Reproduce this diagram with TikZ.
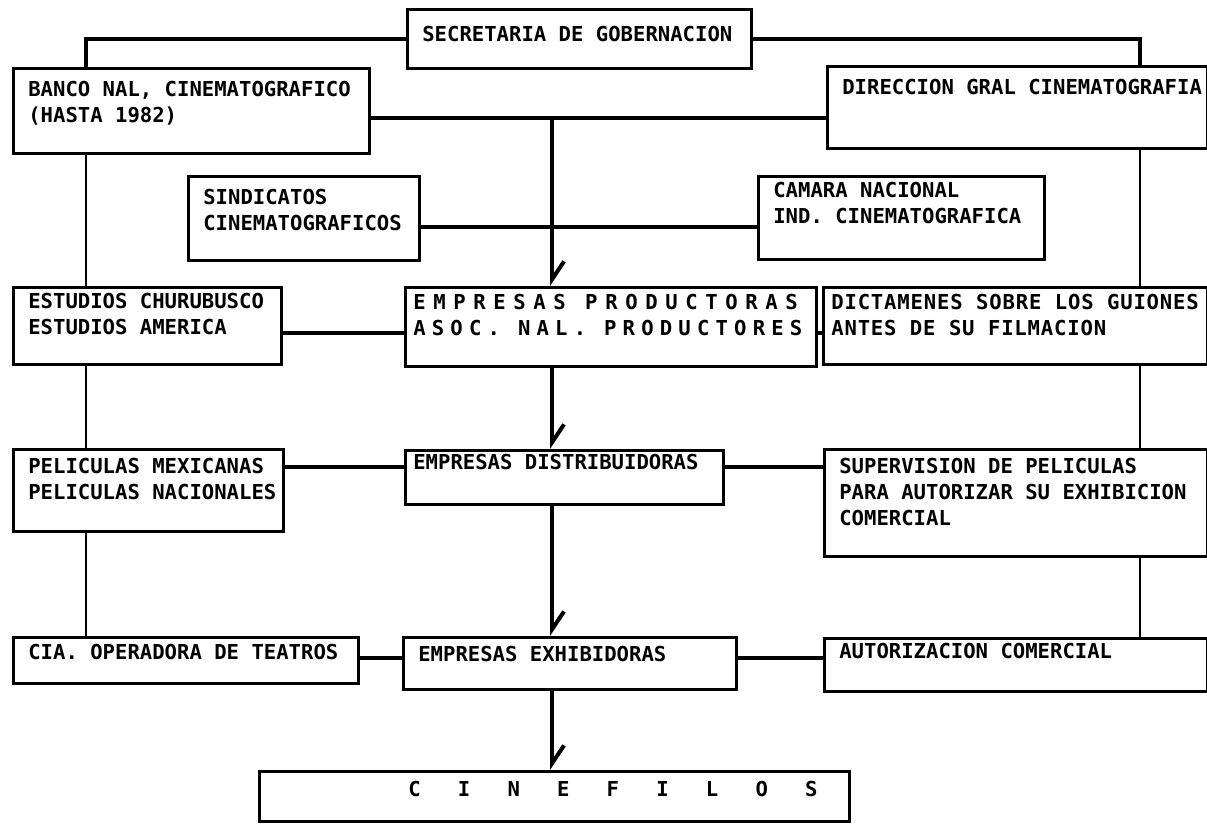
\documentclass[tikz,border=0pt]{standalone}
\usepackage{fontspec}
\setmainfont{DejaVu Sans Mono}
\usepackage{tikz}
\usetikzlibrary{arrows.meta}

\begin{document}
\begin{tikzpicture}[x=0.5pt,y=-0.5pt,font=\fontsize{10.3}{13}\selectfont\bfseries,
  org/.style={draw,line width=1.3pt,anchor=north west,align=left,inner xsep=7.5pt,text height=7.5pt,
    execute at begin node={\spaceskip=0.602em\xspaceskip=0.602em\relax}},
  link/.style={line width=2pt},
  side/.style={line width=1.2pt},
  flow/.style={link,-{Straight Barb[harpoon,length=9pt,width=12pt]}}]
  \useasboundingbox (0,0) rectangle (1207,824);
  % column and row guides
  \coordinate (lcol) at (86,0);
  \coordinate (rcol) at (1140,0);
  \coordinate (axis) at (552,118);
  \coordinate (cross) at (552,227);
  \coordinate (r1) at (0,333);
  \coordinate (r2) at (0,467);
  \coordinate (r3) at (0,658);
  % boxes
  \node[org,text width=157pt,inner ysep=8.5pt,text depth=5pt] (sec) at (406,8) {SECRETARIA DE GOBERNACION};
  \node[org,text width=163pt,inner ysep=6.5pt,text depth=22pt] (banco) at (12,67) {BANCO NAL, CINEMATOGRAFICO\\(HASTA 1982)};
  \node[org,text width=175pt,inner ysep=6.5pt,text depth=20.5pt] (dir) at (826,65) {\mbox{DIRECCION GRAL CINEMATOGRAFIA}};
  \node[org,text width=100.5pt,inner ysep=6.5pt,text depth=21.5pt] (sind) at (187,175) {SINDICATOS\\CINEMATOGRAFICOS};
  \node[org,text width=128pt,inner ysep=3pt,text depth=28pt] (cam) at (757,175) {CAMARA NACIONAL\\IND. CINEMATOGRAFICA};
  \node[org,text width=119pt,inner ysep=3pt,text depth=25pt] (est) at (12,286) {ESTUDIOS CHURUBUSCO\\ESTUDIOS AMERICA};
  \node[org,inner xsep=4pt,text width=197.5pt,inner ysep=3.5pt,text depth=25pt] (prod) at (404,286)
    {\mbox{\addfontfeature{LetterSpace=37}\spaceskip=9.7pt EMPRESAS PRODUCTORAS}\\\mbox{\addfontfeature{LetterSpace=30}\spaceskip=9pt\xspaceskip=9pt ASOC. NAL. PRODUCTORES}};
  \node[org,inner xsep=4pt,text width=184pt,inner ysep=3.5pt,text depth=24pt] (dict) at (822,286)
    {\mbox{\addfontfeature{LetterSpace=4}\spaceskip=6.7pt DICTAMENES SOBRE LOS GUIONES}\\\mbox{\addfontfeature{LetterSpace=4}\spaceskip=6.7pt ANTES DE SU FILMACION}};
  \node[org,text width=120pt,inner ysep=4.5pt,text depth=24.5pt] (pel) at (12,448) {\mbox{PELICULAS MEXICANAS}\\\mbox{PELICULAS NACIONALES}};
  \node[org,inner xsep=4pt,text width=151pt,inner ysep=2pt,text depth=15.5pt] (dist) at (404,449) {EMPRESAS DISTRIBUIDORAS};
  \node[org,text width=176.5pt,inner ysep=4.5pt,text depth=37pt] (sup) at (823,448) {SUPERVISION DE PELICULAS\\PARA AUTORIZAR SU EXHIBICION\\COMERCIAL};
  \node[org,text width=157.5pt,inner ysep=3.5pt,text depth=8.5pt] (cia) at (12,636) {CIA. OPERADORA DE TEATROS};
  \node[org,text width=151.5pt,inner ysep=4.5pt,text depth=9.5pt] (exh) at (402,636) {EMPRESAS EXHIBIDORAS};
  \node[org,text width=176.5pt,inner ysep=2.5pt,text depth=14pt] (aut) at (823,637) {AUTORIZACION COMERCIAL};
  \node[org,text width=280pt,inner ysep=5pt,text depth=7.5pt] (cine) at (258,770) {\hspace*{67pt}C~~~I~~~N~~~E~~~F~~~I~~~L~~~O~~~S};
  % connectors
  \draw[link] (sec.west) -| (banco.north -| lcol);
  \draw[link] (sec.east) -| (dir.north -| rcol);
  \draw[link] (banco.east |- axis) -- (dir.west |- axis);
  \draw[link] (sind.east |- cross) -- (cam.west |- cross);
  \draw[flow] (axis) -- (prod.north -| axis);
  \draw[flow] (prod.south -| axis) -- (dist.north -| axis);
  \draw[flow] (dist.south -| axis) -- (exh.north -| axis);
  \draw[flow] (exh.south -| axis) -- (cine.north -| axis);
  \draw[link] (est.east |- r1) -- (prod.west |- r1);
  \draw[link] (prod.east |- r1) -- (dict.west |- r1);
  \draw[link] (pel.east |- r2) -- (dist.west |- r2);
  \draw[link] (dist.east |- r2) -- (sup.west |- r2);
  \draw[link] (cia.east |- r3) -- (exh.west |- r3);
  \draw[link] (exh.east |- r3) -- (aut.west |- r3);
  \foreach \a/\b in {banco/est,est/pel,pel/cia} \draw[side] (\a.south -| lcol) -- (\b.north -| lcol);
  \foreach \a/\b in {dir/dict,dict/sup,sup/aut} \draw[side] (\a.south -| rcol) -- (\b.north -| rcol);
\end{tikzpicture}
\end{document}
